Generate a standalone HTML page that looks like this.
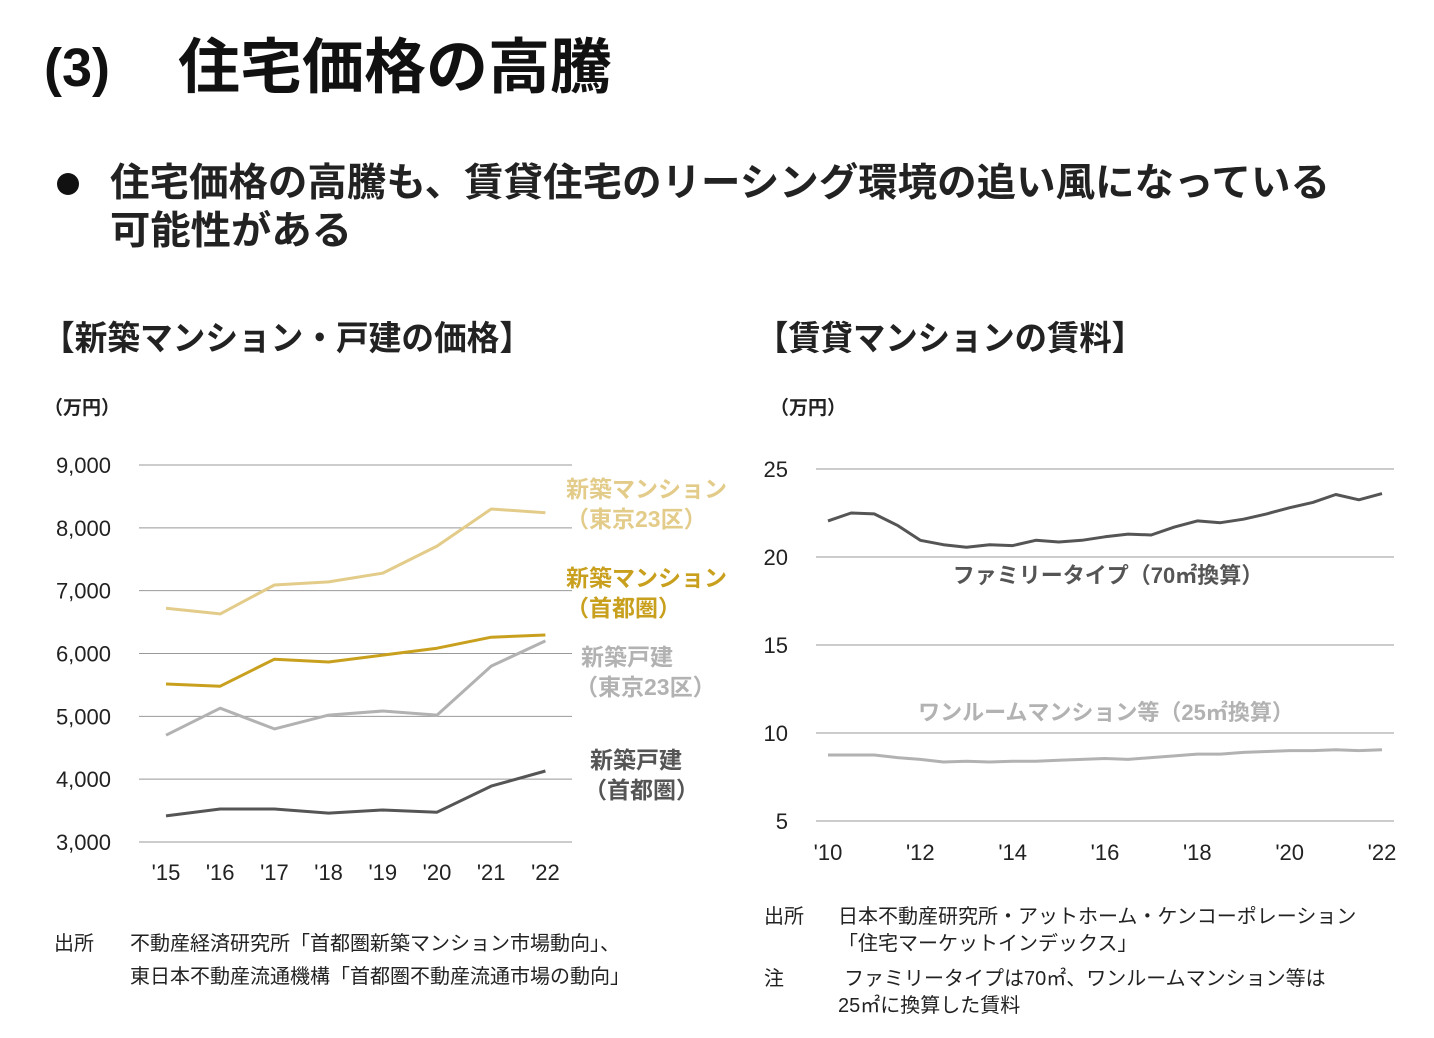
<!DOCTYPE html>
<html><head><meta charset="utf-8">
<style>
body{margin:0;background:#fff;}
svg{display:block;font-family:"Liberation Sans","Noto Sans CJK JP",sans-serif;}
</style></head>
<body>
<svg id="s" width="1434" height="1038" viewBox="0 0 1434 1038" xmlns="http://www.w3.org/2000/svg">
<text x="44" y="86" font-size="54" font-weight="bold" fill="#111">(3)</text>
<text x="178" y="88" font-size="60" font-weight="bold" fill="#111" textLength="434" lengthAdjust="spacingAndGlyphs">住宅価格の高騰</text>
<circle cx="68" cy="184" r="11" fill="#111"/>
<text x="110" y="196" font-size="39" font-weight="bold" fill="#222" textLength="1220" lengthAdjust="spacingAndGlyphs">住宅価格の高騰も、賃貸住宅のリーシング環境の追い風になっている</text>
<text x="110" y="244" font-size="39" font-weight="bold" fill="#222" textLength="242" lengthAdjust="spacingAndGlyphs">可能性がある</text>
<text x="42" y="350" font-size="34" font-weight="bold" fill="#222" textLength="490" lengthAdjust="spacingAndGlyphs">【新築マンション・戸建の価格】</text>
<text x="756" y="350" font-size="34" font-weight="bold" fill="#222" textLength="388" lengthAdjust="spacingAndGlyphs">【賃貸マンションの賃料】</text>
<text x="44" y="414" font-size="19" font-weight="bold" fill="#222">（万円）</text>
<text x="770" y="414" font-size="19" font-weight="bold" fill="#222">（万円）</text>
<g id="L"></g><g id="R"></g>
<g font-size="20" fill="#222">
<text x="54" y="950">出所</text>
<text x="130" y="950">不動産経済研究所「首都圏新築マンション市場動向」、</text>
<text x="130" y="983">東日本不動産流通機構「首都圏不動産流通市場の動向」</text>
<text x="764" y="923">出所</text>
<text x="838" y="923">日本不動産研究所・アットホーム・ケンコーポレーション</text>
<text x="838" y="950">「住宅マーケットインデックス」</text>
<text x="764" y="985">注</text>
<text x="844" y="985">ファミリータイプは70㎡、ワンルームマンション等は</text>
<text x="838" y="1012">25㎡に換算した賃料</text>
</g>
</svg>
<script>
const leftYears=["'15","'16","'17","'18","'19","'20","'21","'22"];
const leftTicks=[3000,4000,5000,6000,7000,8000,9000];
const tokyoMansion=[6720,6630,7090,7140,7280,7710,8300,8240];
const shutoMansion=[5515,5480,5910,5865,5975,6085,6260,6295];
const tokyoHouse=[4700,5130,4800,5020,5085,5020,5800,6200];
const shutoHouse=[3415,3525,3525,3460,3510,3475,3890,4130];
const rightTicks=[5,10,15,20,25];
const rightYearLabels=["'10","'12","'14","'16","'18","'20","'22"];
const familyRent=[22.05,22.5,22.45,21.8,20.95,20.7,20.55,20.7,20.65,20.95,20.85,20.95,21.15,21.3,21.25,21.7,22.05,21.95,22.15,22.45,22.8,23.1,23.55,23.25,23.6];
const oneRoomRent=[8.75,8.75,8.75,8.6,8.5,8.35,8.4,8.35,8.4,8.4,8.45,8.5,8.55,8.5,8.6,8.7,8.8,8.8,8.9,8.95,9.0,9.0,9.05,9.0,9.05];
const NS="http://www.w3.org/2000/svg";
function mk(p,t,a,txt){const e=document.createElementNS(NS,t);for(const k in a)e.setAttribute(k,a[k]);if(txt!==undefined)e.textContent=txt;p.appendChild(e);return e;}
const L=document.getElementById('L');
const ly=v=>842-(v-3000)/6000*377;
const lx=i=>166+i*54.2;
leftTicks.forEach(t=>{
 const g=mk(L,'line',{x1:139,x2:572,y1:ly(t),y2:ly(t),stroke:'#999','stroke-width':1});
 
 
 const tx=mk(L,'text',{x:111,y:ly(t)+8,'font-size':22,fill:'#222','text-anchor':'end'},t.toLocaleString('en-US'));
 
 
});
leftYears.forEach((y,i)=>{
 const tx=mk(L,'text',{x:lx(i),y:880,'font-size':22,fill:'#222','text-anchor':'middle'},y);
 
 
});
function line(p,arr,xf,yf,col,name){
 const pts=arr.map((v,i)=>xf(i).toFixed(1)+','+yf(v).toFixed(1)).join(' ');
 const e=mk(p,'polyline',{points:pts,fill:'none',stroke:col,'stroke-width':3,'stroke-linejoin':'round'});
 
 
}
line(L,tokyoMansion,lx,ly,'#e3cc8a','series-tokyo-mansion');
line(L,shutoMansion,lx,ly,'#c9a01e','series-shuto-mansion');
line(L,tokyoHouse,lx,ly,'#b2b2b2','series-tokyo-house');
line(L,shutoHouse,lx,ly,'#555555','series-shuto-house');
[[566,497,'新築マンション','#e3cc8a','label-tokyo-mansion-1'],[566,527,'（東京23区）','#e3cc8a','label-tokyo-mansion-2'],
 [566,586,'新築マンション','#c9a01e','label-shuto-mansion-1'],[566,616,'（首都圏）','#c9a01e','label-shuto-mansion-2'],
 [581,665,'新築戸建','#b2b2b2','label-tokyo-house-1'],[575,695,'（東京23区）','#b2b2b2','label-tokyo-house-2'],
 [590,768,'新築戸建','#555','label-shuto-house-1'],[584,798,'（首都圏）','#555','label-shuto-house-2']].forEach(a=>{
 const tx=mk(L,'text',{x:a[0],y:a[1],'font-size':23,'font-weight':'bold',fill:a[3]},a[2]);
 
 
});
const R=document.getElementById('R');
const ry=v=>821-(v-5)/20*352;
const rx=i=>828+i*(554/24);
rightTicks.forEach(t=>{
 const g=mk(R,'line',{x1:816,x2:1394,y1:ry(t),y2:ry(t),stroke:'#999','stroke-width':1});
 
 
 const tx=mk(R,'text',{x:788,y:ry(t)+8,'font-size':22,fill:'#222','text-anchor':'end'},t);
 
 
});
rightYearLabels.forEach((y,i)=>{
 const tx=mk(R,'text',{x:rx(i*4),y:860,'font-size':22,fill:'#222','text-anchor':'middle'},y);
 
 
});
line(R,familyRent,rx,ry,'#555555','series-family-rent');
line(R,oneRoomRent,rx,ry,'#b2b2b2','series-oneroom-rent');
let t1=mk(R,'text',{x:1108,y:583,'font-size':22,'font-weight':'bold',fill:'#555','text-anchor':'middle'},'ファミリータイプ（70㎡換算）');


let t2=mk(R,'text',{x:1106,y:720,'font-size':22,'font-weight':'bold',fill:'#b2b2b2','text-anchor':'middle'},'ワンルームマンション等（25㎡換算）');


</script>
</body></html>
